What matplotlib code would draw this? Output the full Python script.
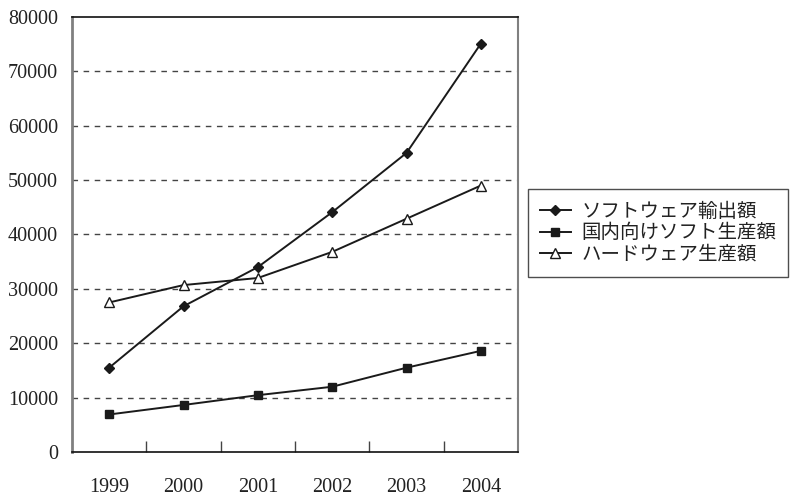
import matplotlib
matplotlib.use("Agg")
import matplotlib.pyplot as plt
from matplotlib.ticker import FixedLocator, NullFormatter, FixedFormatter

years = ["1999", "2000", "2001", "2002", "2003", "2004"]
soft_export = [15500, 26800, 34000, 44100, 55000, 75100]
domestic_soft = [6900, 8650, 10450, 12000, 15500, 18600]
hardware = [27500, 30700, 32000, 36800, 42900, 49000]
labels = ["ソフトウェア輸出額", "国内向けソフト生産額", "ハードウェア生産額"]
yticks = [0, 10000, 20000, 30000, 40000, 50000, 60000, 70000, 80000]

fig = plt.figure(figsize=(7.94, 4.97), dpi=100)
ax = fig.add_axes([72/794, 1-452/497, (518-72)/794, (452-17)/497])

x = list(range(len(years)))
ax.plot(x, soft_export, color="#1a1a1a", lw=1.4, marker="D", ms=4.8,
        mfc="#1a1a1a", mec="#1a1a1a", label=labels[0], zorder=3)
ax.plot(x, domestic_soft, color="#1a1a1a", lw=1.4, marker="s", ms=5.5,
        mfc="#1a1a1a", mec="#1a1a1a", label=labels[1], zorder=3)
ax.plot(x, hardware, color="#1a1a1a", lw=1.4, marker="^", ms=7,
        mfc="white", mec="#1a1a1a", mew=1.0, label=labels[2], zorder=3)

ax.set_xlim(-0.5, len(years) - 0.5)
ax.set_ylim(0, 80000)

# x axis: labels at centers, tick marks between categories
ax.xaxis.set_major_locator(FixedLocator([i + 0.5 for i in range(len(years) - 1)]))
ax.xaxis.set_major_formatter(NullFormatter())
ax.xaxis.set_minor_locator(FixedLocator(x))
ax.xaxis.set_minor_formatter(FixedFormatter(years))
ax.tick_params(axis="x", which="major", direction="in", length=8, width=1.0,
               color="#444444")
ax.tick_params(axis="x", which="minor", length=0, pad=19)

ax.set_yticks(yticks)
ax.set_yticklabels([str(v) for v in yticks])
ax.tick_params(axis="y", length=0, pad=10)

for lab in ax.get_xticklabels(minor=True) + ax.get_yticklabels():
    lab.set_fontfamily("Liberation Serif")
    lab.set_fontsize(14.5)
    lab.set_color("#222222")

for v in yticks[1:-1]:
    ax.axhline(v, color="#444444", lw=1.0, ls=(0, (4, 4)), zorder=1)

ax.spines["left"].set_color("#808080")
ax.spines["left"].set_linewidth(2)
ax.spines["right"].set_color("#808080")
ax.spines["right"].set_linewidth(1.5)
ax.spines["top"].set_color("#111111")
ax.spines["top"].set_linewidth(1.2)
ax.spines["bottom"].set_color("#111111")
ax.spines["bottom"].set_linewidth(1.2)

leg = ax.legend(loc="center left", bbox_to_anchor=(528/794, 1-233/497),
                bbox_transform=fig.transFigure, frameon=True, fancybox=False,
                edgecolor="#222222", prop={"family": ["Noto Sans CJK JP", "DejaVu Sans"], "size": 14},
                handlelength=1.6, handletextpad=0.55, labelspacing=0.02,
                borderpad=0.6, borderaxespad=0)
leg.get_frame().set_linewidth(1.0)
for t in leg.get_texts():
    t.set_color("#222222")

fig.savefig("out.png", dpi=100)
